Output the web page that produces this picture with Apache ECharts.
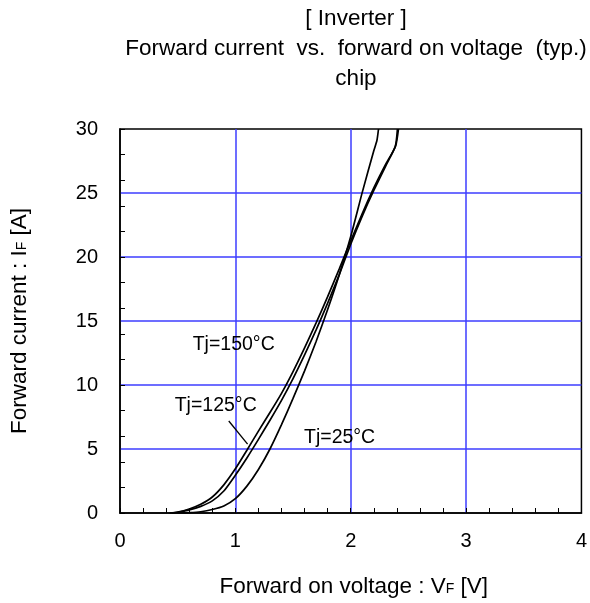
<!DOCTYPE html>
<html>
<head>
<meta charset="utf-8">
<script src="https://cdn.jsdelivr.net/npm/echarts@6/dist/echarts.min.js"></script>
<style>html,body{margin:0;padding:0;background:#fff}#c{width:590px;height:603px}</style>
</head>
<body>
<div id="c"></div>
<script>
// Tj = 25 °C
const vf25 = [0.50,0.60,0.70,0.80,0.90,1.00,1.10,1.20,1.30,1.40,1.50,1.60,1.70,1.80,1.90,2.00,2.10,2.20,2.227,2.241];
const if25 = [0,0.03,0.10,0.27,0.55,1.12,2.10,3.40,5.00,6.90,8.95,11.10,13.40,15.90,18.60,21.60,25.05,28.30,29.10,30];
// Tj = 125 °C
const vf125 = [0.45,0.50,0.60,0.70,0.80,0.90,1.00,1.10,1.20,1.30,1.40,1.50,1.60,1.70,1.80,1.90,2.00,2.10,2.20,2.30,2.39,2.414];
const if125 = [0,0.05,0.24,0.52,0.95,1.72,2.95,4.30,5.75,7.25,8.80,10.50,12.35,14.30,16.40,18.60,21.00,23.20,25.20,27.05,28.70,30];
// Tj = 150 °C
const vf150 = [0.43,0.50,0.60,0.70,0.80,0.90,1.00,1.10,1.20,1.30,1.40,1.50,1.60,1.70,1.80,1.90,1.965,2.10,2.20,2.30,2.385,2.405];
const if150 = [0,0.07,0.31,0.68,1.25,2.20,3.45,4.90,6.40,7.85,9.35,11.05,12.90,14.85,16.90,19.05,20.50,23.40,25.40,27.20,28.60,30];

const xTicks = [0,1,2,3,4];
const yTicks = [0,5,10,15,20,25,30];
const titleLines = ['[ Inverter ]', 'Forward current  vs.  forward on voltage  (typ.)', 'chip'];
const curveLabels = [
  {name:'150', text:'Tj=150°C', at:[0.63,13.17]},
  {name:'125', text:'Tj=125°C', at:[0.474,8.42]},
  {name:'25',  text:'Tj=25°C',  at:[1.595,5.85]}
];
const leader = [[0.943,7.19],[1.106,5.38]];

const FONT = 'Liberation Sans, Arial, sans-serif';
const BLUE = '#3c3cff';
const pairs = (xs, ys) => xs.map((x,i)=>[x, ys[i]]);
const subRich = { s: {fontSize: 14, fontFamily: FONT, color:'#000', verticalAlign:'bottom', padding:[0,0,2,0]} };

function mkSeries(name, xs, ys, lbl, extra) {
  const s = {
    name, type:'line', data: pairs(xs, ys), showSymbol:false, smooth:0.2,
    lineStyle:{color:'#000', width:1.7}, silent:true, z:5,
    markPoint: {
      symbol:'circle', symbolSize:0, silent:true,
      label:{show:true, position:'right', distance:0, formatter: lbl.text, fontSize:19.5, fontFamily:FONT, color:'#000'},
      data:[{coord: lbl.at}]
    }
  };
  return Object.assign(s, extra||{});
}

const chart = echarts.init(document.getElementById('c'), null, {renderer:'canvas'});
chart.setOption({
  animation:false,
  backgroundColor:'#fff',
  title:{
    text: titleLines.join('\n'), left:356, top:4, textAlign:'center', padding:0,
    textStyle:{fontSize:22.5, fontWeight:'normal', color:'#000', fontFamily:FONT, lineHeight:30}
  },
  grid:{left:120, right:6, top:129, bottom:89, show:true, borderColor:'#000', borderWidth:1.5, backgroundColor:'transparent'},
  xAxis:{
    type:'value', min:xTicks[0], max:xTicks[xTicks.length-1], interval:1,
    name:'Forward on voltage : V{s|F} [V]', nameLocation:'middle', nameGap:62,
    nameTextStyle:{fontSize:22.5, fontFamily:FONT, color:'#000', rich:subRich, padding:[0,0,0,6]},
    axisLine:{lineStyle:{color:'#000', width:1.5}},
    axisTick:{show:true, inside:true, length:5, lineStyle:{color:'#000'}},
    minorTick:{show:true, splitNumber:5, length:5, lineStyle:{color:'#000'}},
    axisLabel:{fontSize:20, fontFamily:FONT, color:'#000', margin:18},
    splitLine:{show:true, showMinLine:false, showMaxLine:false, lineStyle:{color:BLUE, width:1.5}}
  },
  yAxis:[{
    type:'value', min:yTicks[0], max:yTicks[yTicks.length-1], interval:5, position:'left',
    name:'Forward current : I{s|F} [A]', nameLocation:'middle', nameGap:89,
    nameTextStyle:{fontSize:22.5, fontFamily:FONT, color:'#000', rich:subRich},
    axisLine:{show:true, lineStyle:{color:'#000', width:1.5}},
    axisTick:{show:false},
    axisLabel:{fontSize:20, fontFamily:FONT, color:'#000', margin:22},
    splitLine:{show:true, showMinLine:false, showMaxLine:false, lineStyle:{color:BLUE, width:1.5}}
  },{
    type:'value', min:0, max:30, interval:2, position:'left',
    axisLine:{show:false},
    axisTick:{show:true, inside:true, length:5, lineStyle:{color:'#000'}},
    axisLabel:{show:false}, splitLine:{show:false}, minorSplitLine:{show:false}, splitArea:{show:false}
  }],
  series:[
    mkSeries('Tj=25', vf25, if25, curveLabels[2]),
    mkSeries('Tj=125', vf125, if125, curveLabels[1], {markLine:{
      silent:true, symbol:['none','none'], label:{show:false},
      lineStyle:{color:'#000', width:1.3, type:'solid'},
      data:[[{coord:leader[0]},{coord:leader[1]}]]
    }}),
    mkSeries('Tj=150', vf150, if150, curveLabels[0])
  ]
});
</script>
</body>
</html>
